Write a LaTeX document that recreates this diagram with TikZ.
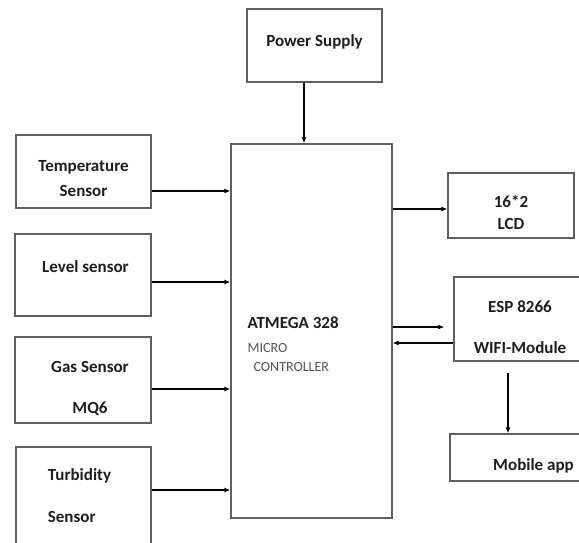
\documentclass[tikz,border=0pt]{standalone}
\usepackage{fontspec}
\setmainfont{Carlito}
\usetikzlibrary{positioning, arrows.meta, calc}
\definecolor{cLine}{RGB}{95,95,95}
\definecolor{cText}{RGB}{30,30,30}
\definecolor{cSoft}{RGB}{85,85,85}

\begin{document}
\begin{tikzpicture}[x=1pt, y=-1pt, >={Latex[length=6pt,width=5pt]}, font=\fontsize{17}{20}\selectfont\bfseries]

    \tikzstyle{block} = [draw=cLine, rectangle, line width=1.2pt, text=cText, align=center, inner sep=2pt]
    \tikzstyle{link} = [->, line width=1.2pt, black]

    \useasboundingbox (0,0) rectangle (579,543);
    \clip (0,0) rectangle (579,543);

    % Controller
    \node[block, minimum width=161pt, minimum height=374pt] (mc) at (311.5,331) {};
    \node[text=cText, align=left, inner sep=0pt, anchor=north west] (mctext) at ([xshift=17pt,yshift=14.5pt]mc.west) {ATMEGA 328\\[4pt]{\fontsize{14}{17}\selectfont\mdseries\color{cSoft}MICRO}\\[-1pt]{\fontsize{14}{17}\selectfont\mdseries\color{cSoft}\hspace*{6pt}CONTROLLER}};

    % Power supply
    \node[block, minimum width=135pt, minimum height=73pt, text height=12pt, text depth=9.8pt] (ps) at (314.5,45.5) {Power Supply};

    % Sensors
    \node[block, minimum width=135pt, minimum height=73pt] (temp) at (83.5,171.5) {\rule{0pt}{25.2pt}Temperature\\[5pt]Sensor};
    \node[block, minimum width=136pt, minimum height=82pt, text height=10pt, text depth=14.8pt] (level) at (83,275) {\hspace*{5pt}Level sensor};
    \node[block, minimum width=136pt, minimum height=86pt] (gas) at (83,380) {\rule{0pt}{29.2pt}\hspace*{14pt}Gas Sensor\\[21pt]\hspace*{14pt}MQ6\rule[-3pt]{0pt}{3pt}};
    \node[block, minimum width=135pt, minimum height=100pt, align=left] (turb) at (83.5,497) {\rule{0pt}{14pt}\hspace*{-8pt}Turbidity\\[22pt]\hspace*{-8pt}Sensor\rule[-4.8pt]{0pt}{4.8pt}};

    % Outputs
    \node[block, minimum width=126pt, minimum height=65pt] (lcd) at (511,205.5) {\rule{0pt}{26pt}16*2\\[2pt]LCD};
    \node[block, minimum width=132pt, minimum height=84pt] (esp) at (520,319) {\rule{0pt}{28pt}ESP 8266\\[21pt]WIFI-Module};
    \node[block, minimum width=167pt, minimum height=47pt, text height=28pt, text depth=1.8pt] (app) at (533.5,457.5) {Mobile app};

    % Power to controller
    \draw[link] ([xshift=-10.5pt]ps.south) -- ([xshift=-10.5pt]ps.south |- mc.north);

    % Sensor inputs
    \draw[link] ([yshift=-19.5pt]temp.east) -- ([yshift=-19.5pt]temp.east -| mc.west);
    \draw[link] ([yshift=-7pt]level.east) -- ([yshift=-7pt]level.east -| mc.west);
    \draw[link] ([yshift=-9pt]gas.east) -- ([yshift=-9pt]gas.east -| mc.west);
    \draw[link] ([yshift=7pt]turb.east) -- ([yshift=7pt]turb.east -| mc.west);

    % Display and wifi
    \draw[link] ([yshift=-3.5pt]lcd.west -| mc.east) -- ([yshift=-3.5pt]lcd.west);
    \draw[link, shorten >=9pt] ([yshift=-8pt]esp.west -| mc.east) -- ([yshift=-8pt]esp.west);
    \draw[link] ([yshift=-24pt]esp.west) -- ([yshift=-24pt]esp.west -| mc.east);
    \draw[link, shorten <=11pt] ([xshift=54.6pt]esp.south west) -- ([xshift=54.6pt]esp.south west |- app.north);
\end{tikzpicture}
\end{document}
